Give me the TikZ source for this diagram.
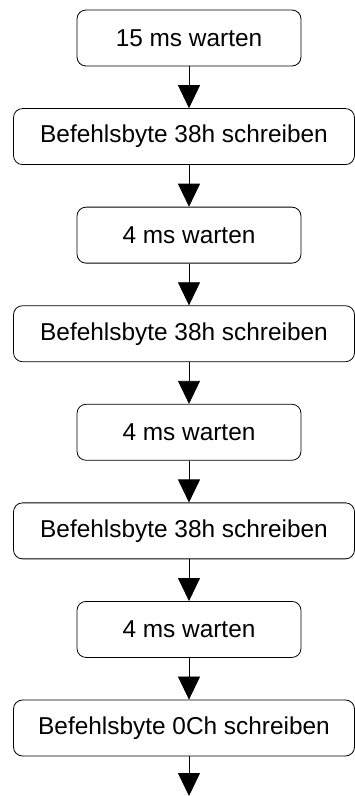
\documentclass[tikz,border=0pt]{standalone}
\usepackage{fontspec}
\setmainfont{Liberation Sans}
\usetikzlibrary{arrows.meta}
\begin{document}
\begin{tikzpicture}[x=1pt,y=-1pt,
  box/.style={draw, line width=0.8pt, rounded corners=9pt, inner sep=0pt, font=\fontsize{24.4}{28}\selectfont},
  smallbox/.style={box, minimum width=224pt, minimum height=56pt},
  widebox/.style={box, minimum width=341pt, minimum height=56pt},
  arr/.style={line width=0.8pt, -{Triangle[width=22pt,length=23pt]}}
]
\useasboundingbox (0,0) rectangle (355,796);
\def\p{98.57}
\node[smallbox] (b1) at (189, 38) {15 ms warten};
\node[widebox]  (b2) at (184, 38+\p) {Befehlsbyte 38h schreiben};
\node[smallbox] (b3) at (189, 38+2*\p) {4 ms warten};
\node[widebox]  (b4) at (184, 38+3*\p) {Befehlsbyte 38h schreiben};
\node[smallbox] (b5) at (189, 38+4*\p) {4 ms warten};
\node[widebox]  (b6) at (184, 38+5*\p) {Befehlsbyte 38h schreiben};
\node[smallbox] (b7) at (189, 38+6*\p) {4 ms warten};
\node[widebox]  (b8) at (184, 38+7*\p) {Befehlsbyte 0Ch schreiben};
\coordinate (end) at (189, 796);
\draw[arr] (b1.south) -- (b1.south |- b2.north);
\draw[arr] (b3.north |- b2.south) -- (b3.north);
\draw[arr] (b3.south) -- (b3.south |- b4.north);
\draw[arr] (b5.north |- b4.south) -- (b5.north);
\draw[arr] (b5.south) -- (b5.south |- b6.north);
\draw[arr] (b7.north |- b6.south) -- (b7.north);
\draw[arr] (b7.south) -- (b7.south |- b8.north);
\draw[arr] (end |- b8.south) -- (end);
\end{tikzpicture}
\end{document}
